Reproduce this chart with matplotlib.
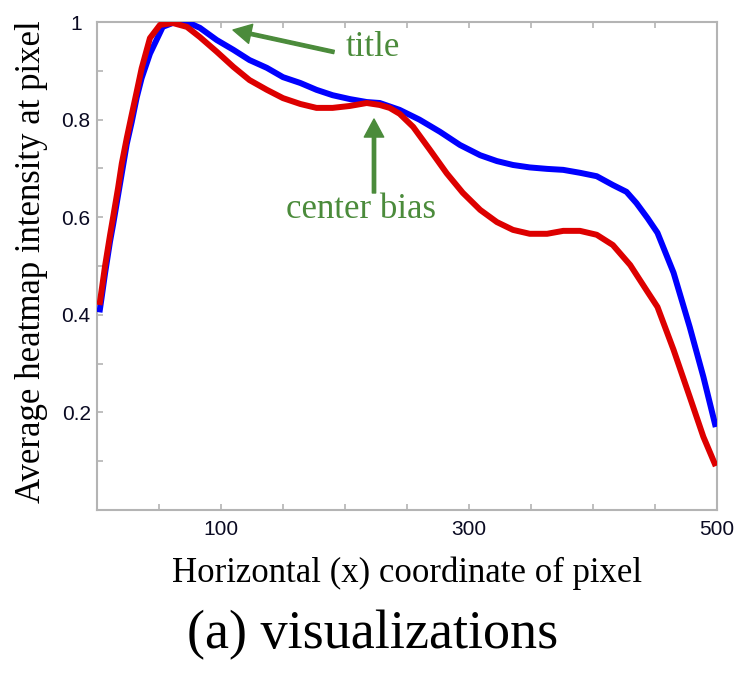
import matplotlib
matplotlib.use("Agg")
import matplotlib.pyplot as plt
from matplotlib.ticker import MultipleLocator, FixedLocator

# ---- data ----
red_x = [2, 4, 6.5, 10.5, 13, 17, 20, 24, 28, 32, 36, 42.7, 50.8, 61, 72.5, 83, 96.6,
         110, 123, 137, 150, 164, 177, 190, 204, 217.5, 228, 236, 244, 255, 268.5, 282,
         295, 309, 322.5, 335.5, 349, 363, 376, 389.5, 403, 416, 430, 444, 452, 465,
         478, 489, 499]
red_y = [0.42, 0.455, 0.50, 0.563, 0.60, 0.66, 0.71, 0.762, 0.81, 0.857, 0.905, 0.967,
         0.994, 0.998, 0.99, 0.969, 0.939, 0.908, 0.881, 0.861, 0.844, 0.832, 0.824,
         0.824, 0.828, 0.834, 0.83, 0.824, 0.812, 0.785, 0.738, 0.69, 0.65, 0.615,
         0.59, 0.574, 0.566, 0.566, 0.572, 0.572, 0.564, 0.543, 0.502, 0.447, 0.416,
         0.328, 0.232, 0.15, 0.09]

blue_x = [2, 4, 6.5, 10.5, 13, 17, 20, 24, 28, 32, 36, 42.7, 53, 62, 72.5, 83, 96.6,
          110, 123, 137, 150, 164, 177, 190, 204, 217.5, 228, 244, 260, 276.6, 292.7,
          309, 322.5, 335.5, 349, 363, 376, 389.5, 403, 416, 427, 435, 444, 452, 465,
          478, 489, 499]
blue_y = [0.405, 0.44, 0.485, 0.55, 0.585, 0.645, 0.69, 0.75, 0.795, 0.845, 0.885,
          0.935, 0.99, 0.999, 1.0, 0.988, 0.963, 0.943, 0.922, 0.906, 0.887, 0.875,
          0.861, 0.85, 0.842, 0.836, 0.834, 0.82, 0.80, 0.775, 0.748, 0.727, 0.715,
          0.707, 0.702, 0.699, 0.697, 0.691, 0.684, 0.666, 0.652, 0.629, 0.598, 0.568,
          0.486, 0.375, 0.273, 0.17]

x_major = [100, 300, 500]
x_major_labels = ["100", "300", "500"]
y_major = [0.2, 0.4, 0.6, 0.8, 1.0]
y_major_labels = ["0.2", "0.4", "0.6", "0.8", "1"]
right_labels = ["0.2", "0.4", "0.6", "0.8"]

xlabel = "Horizontal (x) coordinate of pixel"
ylabel = "Average heatmap intensity at pixel"
caption = "(a) visualizations"
ann_title = "title"
ann_center = "center bias"

# ---- style ----
serif = ["Liberation Serif", "DejaVu Serif"]
tickfont = ["Liberation Sans Narrow", "Liberation Sans", "DejaVu Sans"]
green = "#4b8b3b"
spine_col = "#b4b4b4"

W, H = 744, 676
fig = plt.figure(figsize=(W / 100, H / 100), dpi=100)
L, R, T, B = 97, 717, 22, 510
ax = fig.add_axes([L / W, (H - B) / H, (R - L) / W, (B - T) / H])

ax.plot(blue_x, blue_y, color="#0000ff", lw=4.3, solid_joinstyle="round",
        solid_capstyle="butt", zorder=3)
ax.plot(red_x, red_y, color="#dd0000", lw=4.3, solid_joinstyle="round",
        solid_capstyle="butt", zorder=4)

ax.set_xlim(0, 500)
ax.set_ylim(0, 1)

for s in ax.spines.values():
    s.set_color(spine_col)
    s.set_linewidth(1.5)

ax.xaxis.set_major_locator(FixedLocator(x_major))
ax.set_xticklabels(x_major_labels, fontfamily=tickfont, fontsize=15)
ax.xaxis.set_minor_locator(MultipleLocator(50))
ax.yaxis.set_major_locator(FixedLocator(y_major))
ax.set_yticklabels(y_major_labels, fontfamily=tickfont, fontsize=15, ha="center")
ax.yaxis.set_minor_locator(MultipleLocator(0.1))

ax.tick_params(which="both", direction="in", length=4, width=1.2, color=spine_col,
               top=True, right=True, labelcolor="#0a0a22")
ax.tick_params(axis="x", which="major", pad=7)
ax.tick_params(axis="y", which="major", pad=15)

# right side (cut-off) labels
ax2 = ax.twinx()
ax2.set_ylim(0, 1)
ax2.yaxis.set_major_locator(FixedLocator([0.2, 0.4, 0.6, 0.8]))
ax2.set_yticklabels(right_labels, fontfamily=tickfont, fontsize=15)
ax2.tick_params(axis="y", direction="in", length=0, pad=23, labelcolor="#222222")
for s in ax2.spines.values():
    s.set_visible(False)

ax.set_xlabel(xlabel, fontfamily=serif, fontsize=25)
ax.xaxis.set_label_coords(0.5, -(557 - B) / (B - T))
ax.set_ylabel(ylabel, fontfamily=serif, fontsize=25)
ax.yaxis.set_label_coords(-(L - 48) / (R - L), (B - 262) / (B - T))

fig.text(0.5 * (185 + 560) / W, 1 - 635 / H, caption, fontfamily=serif, fontsize=39,
         ha="center", va="center")

# annotations
def px2data(px, py):
    return ((px - L) / (R - L) * 500, (B - py) / (B - T))

arrow_kw = dict(facecolor=green, edgecolor=green, width=2.4, headwidth=14,
                headlength=13, shrink=0)
ax.annotate("", xy=px2data(233, 30), xytext=px2data(334, 52), arrowprops=arrow_kw,
            zorder=5)
ax.annotate("", xy=px2data(374, 119), xytext=px2data(374, 193), arrowprops=arrow_kw,
            zorder=5)
tx, ty = px2data(373, 48)
ax.text(tx, ty, ann_title, color=green, fontfamily=serif, fontsize=25,
        ha="center", va="center")
cx, cy = px2data(361, 210)
ax.text(cx, cy, ann_center, color=green, fontfamily=serif, fontsize=25,
        ha="center", va="center")

fig.savefig("out.png", dpi=100)
